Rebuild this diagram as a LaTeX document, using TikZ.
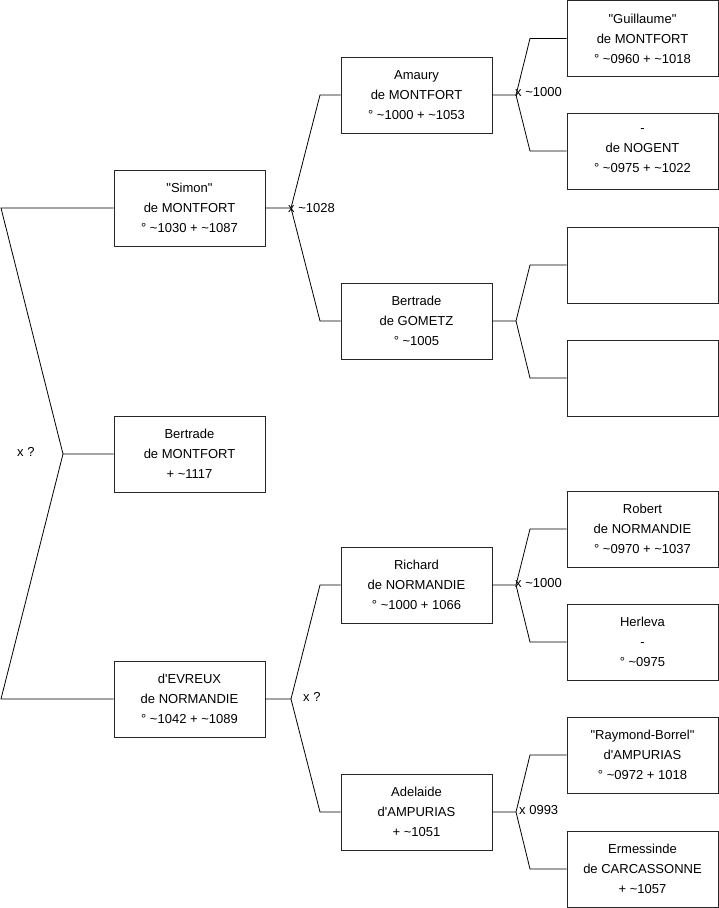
\documentclass[tikz,border=0pt]{standalone}
\usepackage{fontspec}
\setmainfont{Liberation Sans}
\usepackage{tikz}
\usetikzlibrary{positioning}
\newcommand{\appr}{\textasciitilde}
\newcommand{\dq}{\textquotedbl}

\begin{document}
\begin{tikzpicture}[x=1pt, y=-1pt,
    person/.style={draw=black!85, line width=0.8pt, minimum width=151pt, minimum height=76pt, inner sep=0pt, align=center, font=\fontsize{13}{20}\selectfont},
    link/.style={black, line width=0.8pt},
    lbl/.style={anchor=west, inner sep=0pt, font=\fontsize{13}{15}\selectfont}
]
    \useasboundingbox (0,0) rectangle (719,908);
    % generation 1 and 2
    \node[person] (bertrade) at (189.5,454) {Bertrade\\de MONTFORT\\+ \appr1117};
    \node[person] (simon) at (189.5,208) {\dq Simon\dq\\de MONTFORT\\° \appr1030 + \appr1087};
    \node[person] (evreux) at (189.5,699) {d\textquotesingle EVREUX\\de NORMANDIE\\° \appr1042 + \appr1089};
    % generation 3
    \node[person] (amaury) at (416.5,95) {Amaury\\de MONTFORT\\° \appr1000 + \appr1053};
    \node[person] (gometz) at (416.5,321) {Bertrade\\de GOMETZ\\° \appr1005};
    \node[person] (richard) at (416.5,585) {Richard\\de NORMANDIE\\° \appr1000 + 1066};
    \node[person] (adelaide) at (416.5,812) {Adelaide\\d\textquotesingle AMPURIAS\\+ \appr1051};
    % generation 4
    \node[person] (guillaume) at (642.5,38.5) {\dq Guillaume\dq\\de MONTFORT\\° \appr0960 + \appr1018};
    \node[person] (nogent) at (642.5,151) {-\\de NOGENT\\° \appr0975 + \appr1022};
    \node[person] (blanka) at (642.5,265) {};
    \node[person] (blankb) at (642.5,378) {};
    \node[person] (robert) at (642.5,529) {Robert\\de NORMANDIE\\° \appr0970 + \appr1037};
    \node[person] (herleva) at (642.5,642) {Herleva\\-\\° \appr0975};
    \node[person] (raymond) at (642.5,755) {\dq Raymond-Borrel\dq\\d\textquotesingle AMPURIAS\\° \appr0972 + 1018};
    \node[person] (ermessinde) at (642.5,869) {Ermessinde\\de CARCASSONNE\\+ \appr1057};

    % forks
    \coordinate (fa) at (63,454);
    \coordinate (fa1) at (1,208);
    \coordinate (fa2) at (1,699);
    \draw[link] (bertrade.west) -- (fa) -- (fa1) -- (simon.west);
    \draw[link] (fa) -- (fa2) -- (evreux.west);

    \coordinate (fb) at (291,208);
    \coordinate (fb1) at (320,95);
    \coordinate (fb2) at (320,321);
    \draw[link] (simon.east) -- (fb) -- (fb1) -- (amaury.west);
    \draw[link] (fb) -- (fb2) -- (gometz.west);

    \coordinate (fc) at (291,699);
    \coordinate (fc1) at (320,585);
    \coordinate (fc2) at (320,812);
    \draw[link] (evreux.east) -- (fc) -- (fc1) -- (richard.west);
    \draw[link] (fc) -- (fc2) -- (adelaide.west);

    \coordinate (fd) at (516,95);
    \coordinate (fd1) at (530,38.5);
    \coordinate (fd2) at (530,151);
    \draw[link] (amaury.east) -- (fd) -- (fd1) -- (guillaume.west);
    \draw[link] (fd) -- (fd2) -- (nogent.west);

    \coordinate (fe) at (516,321);
    \coordinate (fe1) at (530,265);
    \coordinate (fe2) at (530,378);
    \draw[link] (gometz.east) -- (fe) -- (fe1) -- (blanka.west);
    \draw[link] (fe) -- (fe2) -- (blankb.west);

    \coordinate (ff) at (516,585);
    \coordinate (ff1) at (530,529);
    \coordinate (ff2) at (530,642);
    \draw[link] (richard.east) -- (ff) -- (ff1) -- (robert.west);
    \draw[link] (ff) -- (ff2) -- (herleva.west);

    \coordinate (fg) at (516,812);
    \coordinate (fg1) at (530,755);
    \coordinate (fg2) at (530,869);
    \draw[link] (adelaide.east) -- (fg) -- (fg1) -- (raymond.west);
    \draw[link] (fg) -- (fg2) -- (ermessinde.west);

    % marriage labels
    \node[lbl] (ma) at (17,452) {x ?};
    \node[lbl] (mb) at (288,208) {x \appr1028};
    \node[lbl] (mc) at (303,697) {x ?};
    \node[lbl] (md) at (515,92) {x \appr1000};
    \node[lbl] (mf) at (515,583) {x \appr1000};
    \node[lbl] (mg) at (519,810) {x 0993};
\end{tikzpicture}
\end{document}
